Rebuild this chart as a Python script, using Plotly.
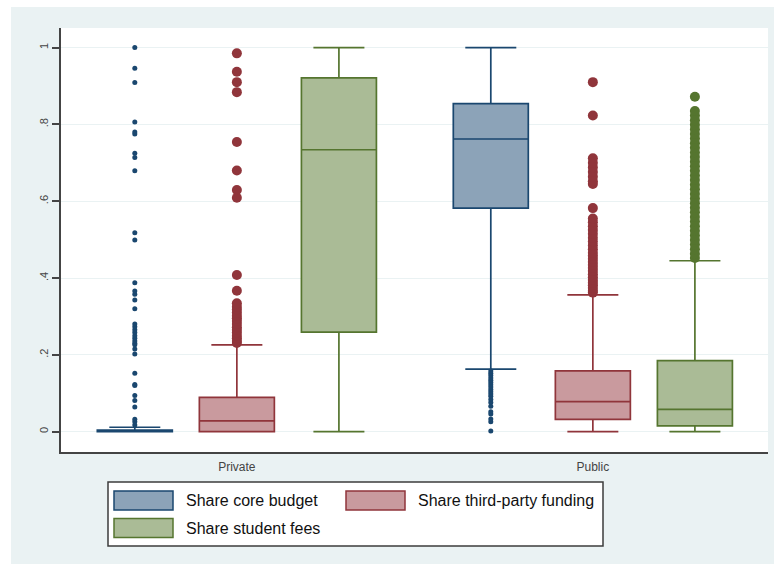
import plotly.graph_objects as go

# ---- data -----------------------------------------------------------------
groups = ["Private", "Public"]
series = ["Share core budget", "Share third-party funding", "Share student fees"]

# box summaries, one value per group (Private, Public)
core_lower = [0.0, 0.163]
core_q1 = [0.0, 0.582]
core_median = [0.0, 0.762]
core_q3 = [0.004, 0.854]
core_upper = [0.0115, 1.0]

third_lower = [0.0, 0.0]
third_q1 = [0.0, 0.032]
third_median = [0.028, 0.078]
third_q3 = [0.089, 0.158]
third_upper = [0.226, 0.356]

fees_lower = [0.0, 0.0]
fees_q1 = [0.259, 0.015]
fees_median = [0.734, 0.058]
fees_q3 = [0.921, 0.185]
fees_upper = [1.0, 0.445]

# points beyond the whiskers
core_out_private = [1.0, 0.946, 0.909, 0.806, 0.780, 0.775, 0.725, 0.714, 0.679,
                    0.518, 0.499, 0.388, 0.366, 0.358, 0.343, 0.320, 0.280, 0.273,
                    0.265, 0.258, 0.250, 0.243, 0.236, 0.230, 0.226, 0.215, 0.202,
                    0.152, 0.123, 0.120, 0.094, 0.081, 0.064, 0.032, 0.026, 0.017]
core_out_public = [0.158, 0.152, 0.146, 0.140, 0.134, 0.128, 0.122, 0.116, 0.110,
                   0.104, 0.098, 0.092, 0.084, 0.076, 0.066, 0.052, 0.046, 0.033,
                   0.026, 0.002]

third_out_private = [0.985, 0.937, 0.910, 0.884, 0.754, 0.680, 0.629, 0.609, 0.408,
                     0.367, 0.334, 0.325, 0.318, 0.310, 0.302, 0.295, 0.288, 0.280,
                     0.272, 0.265, 0.258, 0.250, 0.243, 0.236, 0.231]
third_out_public = [0.910, 0.823, 0.712, 0.700, 0.688, 0.676, 0.664, 0.652, 0.645,
                    0.582, 0.555, 0.545, 0.535, 0.525, 0.515, 0.505, 0.495, 0.485,
                    0.475, 0.466, 0.458, 0.450, 0.442, 0.434, 0.426, 0.418, 0.410,
                    0.402, 0.395, 0.388, 0.381, 0.374, 0.367, 0.362]

# no points beyond the whiskers for private institutions
fees_out_private = [None]
fees_out_public = [0.872, 0.835, 0.823, 0.811, 0.799, 0.787, 0.775, 0.763, 0.751,
                   0.739, 0.727, 0.715, 0.703, 0.691, 0.679, 0.667, 0.655, 0.643,
                   0.631, 0.619, 0.607, 0.595, 0.583, 0.571, 0.559, 0.547, 0.535,
                   0.523, 0.511, 0.499, 0.487, 0.475, 0.463, 0.452]

y_ticks = [0, 0.2, 0.4, 0.6, 0.8, 1.0]
y_tick_labels = ["0", ".2", ".4", ".6", ".8", "1"]

# ---- styling --------------------------------------------------------------
line_colors = ["#1a476f", "#90353b", "#55752f"]
fill_colors = ["#8ca3b8", "#c99a9e", "#aabb96"]
point_sizes = [5, 10, 10]
bg = "#eaf2f3"
axis_col = "#444444"
FONT = "Liberation Sans, Arial, sans-serif"

W, H = 774, 570
L, R, T, B = 61, 6, 28, 118
PW, PH = W - L - R, H - T - B


def px_x(p):
    return (p - L) / PW


def px_y(p):
    return (H - B - p) / PH


stats = [
    (core_lower, core_q1, core_median, core_q3, core_upper,
     [core_out_private, core_out_public]),
    (third_lower, third_q1, third_median, third_q3, third_upper,
     [third_out_private, third_out_public]),
    (fees_lower, fees_q1, fees_median, fees_q3, fees_upper,
     [fees_out_private, fees_out_public]),
]

fig = go.Figure()
for i, (lo, q1, med, q3, up, pts) in enumerate(stats):
    fig.add_trace(go.Box(
        name=series[i],
        x=groups,
        y=pts,
        lowerfence=lo, q1=q1, median=med, q3=q3, upperfence=up,
        boxpoints="outliers",
        jitter=0,
        pointpos=0,
        whiskerwidth=0.68,
        fillcolor=fill_colors[i],
        line=dict(color=line_colors[i], width=1.7),
        marker=dict(color=line_colors[i], size=point_sizes[i],
                    line=dict(width=0)),
        showlegend=False,
        hoverinfo="skip",
    ))

shapes = []
annotations = []

# white frame around the outer panel
for x0, y0, x1, y1 in [(0, 0, W, 7), (0, 0, 11, H), (0, 564, W, H)]:
    shapes.append(dict(type="rect", xref="paper", yref="paper",
                       x0=px_x(x0), x1=px_x(x1), y0=px_y(y0), y1=px_y(y1),
                       fillcolor="white", line=dict(width=0), layer="above"))

# legend panel
shapes.append(dict(type="rect", xref="paper", yref="paper",
                   x0=px_x(108), x1=px_x(603), y0=px_y(482), y1=px_y(546),
                   fillcolor="white", line=dict(color="#3c3c3c", width=1.5)))
key_left = [114, 346]
text_left = [184, 416]
row_mid = [500.5, 528]
for i, name in enumerate(series):
    col, row = i % 2, i // 2
    shapes.append(dict(type="rect", xref="paper", yref="paper",
                       x0=px_x(key_left[col]), x1=px_x(key_left[col] + 59),
                       y0=px_y(row_mid[row] - 9.5), y1=px_y(row_mid[row] + 9.5),
                       fillcolor=fill_colors[i],
                       line=dict(color=line_colors[i], width=1.5)))
    annotations.append(dict(xref="paper", yref="paper",
                            x=px_x(text_left[col]), y=px_y(row_mid[row]),
                            text=name, showarrow=False, xanchor="left",
                            yanchor="middle",
                            font=dict(family=FONT, size=16, color="#111111")))

fig.update_layout(
    width=W, height=H,
    margin=dict(l=L, r=R, t=T, b=B, pad=0),
    paper_bgcolor=bg,
    plot_bgcolor="white",
    font=dict(family=FONT, color=axis_col),
    boxmode="group",
    boxgap=0.14,
    boxgroupgap=0.265,
    showlegend=False,
    shapes=shapes,
    annotations=annotations,
    xaxis=dict(
        type="category",
        range=[-0.494, 1.492],
        showline=True, linecolor=axis_col, linewidth=2,
        ticks="outside", ticklen=3, tickcolor="rgba(0,0,0,0)",
        tickfont=dict(size=12, color="#444444"),
        showgrid=False, zeroline=False,
    ),
    yaxis=dict(
        range=[-0.053, 1.051],
        tickvals=y_ticks, ticktext=y_tick_labels,
        tickangle=-90,
        ticks="outside", ticklen=7, tickwidth=1.5, tickcolor=axis_col,
        tickfont=dict(size=11, color="#444444"),
        showline=True, linecolor=axis_col, linewidth=2,
        showgrid=True, gridcolor=bg, gridwidth=1.2,
        zeroline=False,
    ),
)

fig.write_html("out.html")
